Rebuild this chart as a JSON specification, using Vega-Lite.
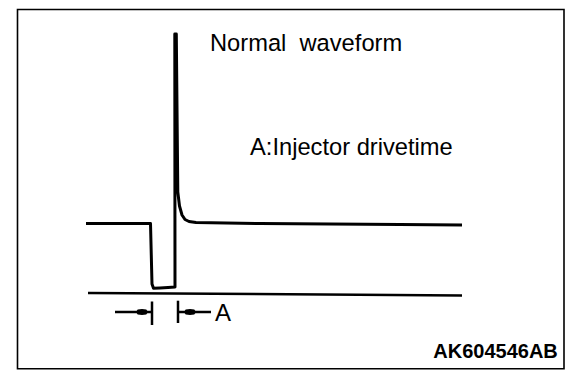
{
  "$schema": "https://vega.github.io/schema/vega-lite/v6.json",
  "width": 576,
  "height": 384,
  "autosize": "none",
  "padding": 0,
  "background": "white",
  "view": {"stroke": null},
  "config": {"font": "Liberation Sans"},
  "datasets": {
    "wave": [
      {"i": 0, "t": 86, "v": 160.5},
      {"i": 1, "t": 150.5, "v": 160.5},
      {"i": 2, "t": 152, "v": 100},
      {"i": 3, "t": 153.5, "v": 95.7},
      {"i": 4, "t": 160, "v": 96},
      {"i": 5, "t": 168, "v": 96.5},
      {"i": 6, "t": 175, "v": 97},
      {"i": 7, "t": 174.8, "v": 350},
      {"i": 8, "t": 176.3, "v": 350},
      {"i": 9, "t": 177.8, "v": 192},
      {"i": 10, "t": 179.5, "v": 178},
      {"i": 11, "t": 182, "v": 169},
      {"i": 12, "t": 185, "v": 164.5},
      {"i": 13, "t": 189, "v": 162.5},
      {"i": 14, "t": 196, "v": 161.5},
      {"i": 15, "t": 260, "v": 160.5},
      {"i": 16, "t": 330, "v": 160},
      {"i": 17, "t": 400, "v": 159.5},
      {"i": 18, "t": 462, "v": 159}
    ],
    "frame": [{"t": 17.5, "t2": 564, "v": 374.5, "v2": 15.2}],
    "rules": [
      {"name": "baseline", "t": 88, "t2": 462, "v": 91, "v2": 88.5},
      {"name": "left arrow", "t": 115, "t2": 152, "v": 72, "v2": 72},
      {"name": "right arrow", "t": 178, "t2": 211, "v": 72, "v2": 72},
      {"name": "left tick", "t": 152, "t2": 152, "v": 82.5, "v2": 59},
      {"name": "right tick", "t": 178, "t2": 178, "v": 83.3, "v2": 61}
    ],
    "dots": [
      {"t": 142, "v": 72},
      {"t": 190, "v": 72}
    ],
    "labels": [
      {"label": "Normal\u00a0 waveform", "t": 210, "v": 333},
      {"label": "A:Injector drivetime", "t": 250, "v": 229}
    ]
  },
  "layer": [
    {
      "data": {"name": "frame"},
      "mark": {"type": "rect", "fill": null, "stroke": "black", "strokeWidth": 1.6},
      "encoding": {
        "x": {"field": "t", "type": "quantitative", "scale": {"domain": [0, 576], "nice": false, "zero": false}, "axis": null},
        "x2": {"field": "t2"},
        "y": {"field": "v", "type": "quantitative", "scale": {"domain": [0, 384], "nice": false, "zero": false}, "axis": null},
        "y2": {"field": "v2"}
      }
    },
    {
      "data": {"name": "rules"},
      "mark": {"type": "rule", "color": "black", "strokeWidth": 2.5},
      "encoding": {
        "x": {"field": "t", "type": "quantitative", "axis": null},
        "x2": {"field": "t2"},
        "y": {"field": "v", "type": "quantitative", "axis": null},
        "y2": {"field": "v2"}
      }
    },
    {
      "data": {"name": "wave"},
      "mark": {"type": "line", "color": "black", "strokeWidth": 3, "strokeJoin": "round"},
      "encoding": {
        "x": {"field": "t", "type": "quantitative", "axis": null},
        "y": {"field": "v", "type": "quantitative", "axis": null},
        "order": {"field": "i", "type": "quantitative"}
      }
    },
    {
      "data": {"name": "dots"},
      "mark": {"type": "point", "filled": true, "fill": "black", "stroke": null, "opacity": 1, "size": 150, "shape": "M -1 0 L -0.7 -0.42 L 0 -0.5 L 0.7 -0.42 L 1 0 L 0.7 0.42 L 0 0.5 L -0.7 0.42 Z"},
      "encoding": {
        "x": {"field": "t", "type": "quantitative", "axis": null},
        "y": {"field": "v", "type": "quantitative", "axis": null}
      }
    },
    {
      "data": {"name": "labels"},
      "mark": {"type": "text", "align": "left", "baseline": "alphabetic", "fontSize": 23.7, "color": "black", "font": "Liberation Sans"},
      "encoding": {
        "x": {"field": "t", "type": "quantitative", "axis": null},
        "y": {"field": "v", "type": "quantitative", "axis": null},
        "text": {"field": "label"}
      }
    },
    {
      "data": {"values": [{"label": "A", "t": 215, "v": 63.3}]},
      "mark": {"type": "text", "align": "left", "baseline": "alphabetic", "fontSize": 24, "color": "black", "font": "Liberation Sans"},
      "encoding": {
        "x": {"field": "t", "type": "quantitative", "axis": null},
        "y": {"field": "v", "type": "quantitative", "axis": null},
        "text": {"field": "label"}
      }
    },
    {
      "data": {"values": [{"label": "AK604546AB", "t": 433.3, "v": 26.3}]},
      "mark": {"type": "text", "align": "left", "baseline": "alphabetic", "fontSize": 20, "fontWeight": "bold", "color": "black", "font": "Liberation Sans"},
      "encoding": {
        "x": {"field": "t", "type": "quantitative", "axis": null},
        "y": {"field": "v", "type": "quantitative", "axis": null},
        "text": {"field": "label"}
      }
    }
  ]
}
